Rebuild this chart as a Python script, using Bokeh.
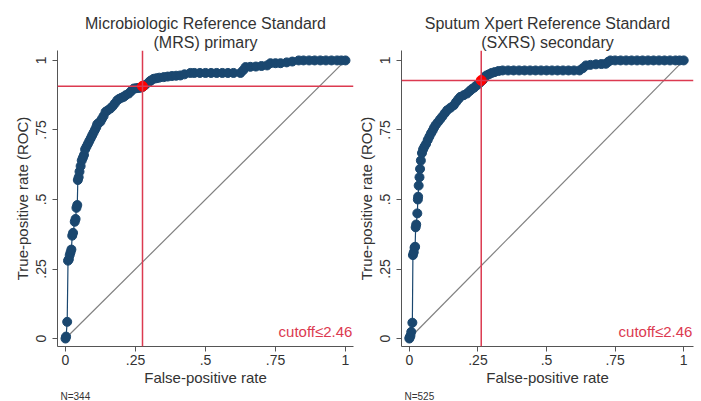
from bokeh.plotting import figure
from bokeh.models import Range1d, FixedTicker, Span, Label, Title
from bokeh.layouts import row
from bokeh.embed import file_html
from bokeh.resources import INLINE

# ---- data ----
titles = [("Microbiologic Reference Standard", "(MRS) primary"),
          ("Sputum Xpert Reference Standard", "(SXRS) secondary")]
n_labels = ["N=344", "N=525"]
cutoff_text = "cutoff\u22642.46"
tick_vals = [0, 0.25, 0.5, 0.75, 1]
tick_labels = ["0", ".25", ".5", ".75", "1"]

mrs_fpr = [0.0, 0.002, 0.006, 0.009, 0.012, 0.015, 0.018, 0.021, 0.024, 0.027, 0.033, 0.036,
           0.039, 0.042, 0.044, 0.047, 0.050, 0.054, 0.058, 0.062, 0.066, 0.070, 0.075, 0.080,
           0.085, 0.090, 0.095, 0.100, 0.105, 0.110, 0.113, 0.118, 0.125, 0.130, 0.136, 0.143,
           0.150, 0.160, 0.168, 0.176, 0.185, 0.192, 0.200, 0.208, 0.215, 0.226, 0.235, 0.244,
           0.252, 0.260, 0.268, 0.276, 0.285, 0.298, 0.305, 0.315, 0.325, 0.335, 0.351, 0.365,
           0.380, 0.395, 0.410, 0.425, 0.446, 0.460, 0.480, 0.500, 0.520, 0.540, 0.560, 0.580,
           0.600, 0.625, 0.635, 0.643, 0.660, 0.680, 0.700, 0.720, 0.732, 0.750, 0.768, 0.790,
           0.810, 0.833, 0.850, 0.870, 0.890, 0.910, 0.930, 0.950, 0.970, 0.985, 1.0]
mrs_tpr = [0.0, 0.007, 0.060, 0.280, 0.285, 0.300, 0.310, 0.320, 0.370, 0.380, 0.420, 0.430,
           0.470, 0.480, 0.570, 0.580, 0.600, 0.620, 0.640, 0.650, 0.660, 0.680, 0.690, 0.700,
           0.710, 0.720, 0.730, 0.740, 0.750, 0.760, 0.770, 0.775, 0.780, 0.790, 0.800, 0.815,
           0.820, 0.827, 0.835, 0.845, 0.857, 0.862, 0.866, 0.869, 0.875, 0.881, 0.890, 0.899,
           0.900, 0.901, 0.902, 0.905, 0.912, 0.922, 0.928, 0.934, 0.936, 0.938, 0.940, 0.942,
           0.944, 0.945, 0.946, 0.950, 0.955, 0.955, 0.955, 0.955, 0.955, 0.955, 0.955, 0.955,
           0.955, 0.955, 0.965, 0.976, 0.977, 0.978, 0.980, 0.982, 0.990, 0.990, 0.990, 0.993,
           0.996, 1.0, 1.0, 1.0, 1.0, 1.0, 1.0, 1.0, 1.0, 1.0, 1.0]

sxrs_fpr = [0.0, 0.001, 0.004, 0.007, 0.011, 0.013, 0.016, 0.019, 0.021, 0.023, 0.025, 0.029,
            0.031, 0.032, 0.034, 0.037, 0.039, 0.042, 0.046, 0.050, 0.055, 0.061, 0.067, 0.073,
            0.079, 0.085, 0.090, 0.096, 0.104, 0.112, 0.120, 0.129, 0.138, 0.150, 0.162, 0.170,
            0.178, 0.186, 0.198, 0.210, 0.220, 0.228, 0.236, 0.245, 0.253, 0.261, 0.268, 0.275,
            0.281, 0.290, 0.300, 0.311, 0.325, 0.340, 0.360, 0.380, 0.400, 0.420, 0.440, 0.460,
            0.480, 0.500, 0.520, 0.540, 0.560, 0.580, 0.600, 0.620, 0.632, 0.644, 0.660, 0.680,
            0.700, 0.716, 0.725, 0.733, 0.750, 0.770, 0.790, 0.810, 0.830, 0.850, 0.870, 0.890,
            0.910, 0.930, 0.950, 0.970, 0.985, 1.0]
sxrs_tpr = [0.0, 0.004, 0.010, 0.024, 0.057, 0.300, 0.310, 0.327, 0.330, 0.400, 0.410, 0.450,
            0.500, 0.510, 0.550, 0.580, 0.610, 0.640, 0.667, 0.680, 0.690, 0.700, 0.714, 0.726,
            0.738, 0.748, 0.758, 0.768, 0.778, 0.788, 0.798, 0.810, 0.821, 0.830, 0.839, 0.850,
            0.860, 0.869, 0.875, 0.881, 0.890, 0.897, 0.902, 0.910, 0.916, 0.924, 0.930, 0.940,
            0.946, 0.950, 0.955, 0.958, 0.962, 0.964, 0.964, 0.964, 0.964, 0.964, 0.964, 0.964,
            0.964, 0.964, 0.964, 0.964, 0.964, 0.964, 0.964, 0.964, 0.972, 0.982, 0.984, 0.986,
            0.987, 0.988, 0.995, 1.0, 1.0, 1.0, 1.0, 1.0, 1.0, 1.0, 1.0, 1.0,
            1.0, 1.0, 1.0, 1.0, 1.0, 1.0]

cut_fpr = [0.275, 0.262]
cut_tpr = [0.907, 0.928]

NAVY = "#1a476f"
RED = "#dc3a50"
TXT = "#333333"
FONT = "Liberation Sans"


def panel(title, fpr, tpr, cfpr, ctpr, ntext, width, bl, br, xend):
    p = figure(width=width, height=401, output_backend="svg", toolbar_location=None,
               x_range=Range1d(-0.0286, xend), y_range=Range1d(-0.0286, 1.0357),
               min_border_left=bl, min_border_right=br, min_border_top=50,
               min_border_bottom=53, background_fill_color="white",
               border_fill_color="white", outline_line_color=None)
    # two centred title lines: the first added sits nearest the frame
    for txt in (title[1], title[0]):
        p.add_layout(Title(text=txt, align="center", text_font=FONT, text_font_size="16px",
                           text_font_style="normal", text_color=TXT, standoff=0, offset=0,
                           text_line_height=1.0),
                     "above")
    p.grid.visible = False
    for ax in (p.xaxis[0], p.yaxis[0]):
        ax.ticker = FixedTicker(ticks=tick_vals)
        ax.major_label_overrides = dict(zip(tick_vals, tick_labels))
        ax.major_label_text_font = FONT
        ax.major_label_text_font_size = "14px"
        ax.major_label_text_color = TXT
        ax.axis_label_text_font = FONT
        ax.axis_label_text_font_size = "15px"
        ax.axis_label_text_font_style = "normal"
        ax.axis_label_text_color = TXT
        ax.axis_line_color = "#555555"
        ax.major_tick_line_color = "#555555"
        ax.major_tick_out = 5
        ax.major_tick_in = 0
        ax.minor_tick_line_color = None
    p.xaxis.axis_label = "False-positive rate"
    p.yaxis.axis_label = "True-positive rate (ROC)"
    p.yaxis.major_label_orientation = "vertical"
    p.xaxis.major_label_standoff = 3
    p.xaxis.axis_label_standoff = 1
    p.yaxis.major_label_standoff = 6
    p.yaxis.axis_label_standoff = 3
    # sample size note under the x axis
    p.add_layout(Title(text=ntext, align="left", text_font=FONT, text_font_size="10px",
                       text_font_style="normal", text_color=TXT, standoff=0, offset=3),
                 "below")

    p.line([0, 1], [0, 1], line_color="#808080", line_width=1.2)
    p.add_layout(Span(location=ctpr, dimension="width", line_color=RED, line_width=1.5))
    p.add_layout(Span(location=cfpr, dimension="height", line_color=RED, line_width=1.5))
    p.line(fpr, tpr, line_color=NAVY, line_width=1.2)
    p.scatter(fpr, tpr, size=9, fill_color=NAVY, line_color=NAVY)
    p.scatter([cfpr], [ctpr], size=10, fill_color="#ff0000", line_color="#ff0000")
    p.add_layout(Label(x=xend - 0.004, y=0.025, text=cutoff_text, text_align="right",
                       text_baseline="middle", text_color=RED, text_font=FONT,
                       text_font_size="15px"))
    return p


p1 = panel(titles[0], mrs_fpr, mrs_tpr, cut_fpr[0], cut_tpr[0], n_labels[0],
           354, 57, 1, 1.0286)
p2 = panel(titles[1], sxrs_fpr, sxrs_tpr, cut_fpr[1], cut_tpr[1], n_labels[1],
           347, 41, 8, 1.0357)

layout = row(p1, p2)
open("out.html", "w").write(file_html(layout, INLINE))
